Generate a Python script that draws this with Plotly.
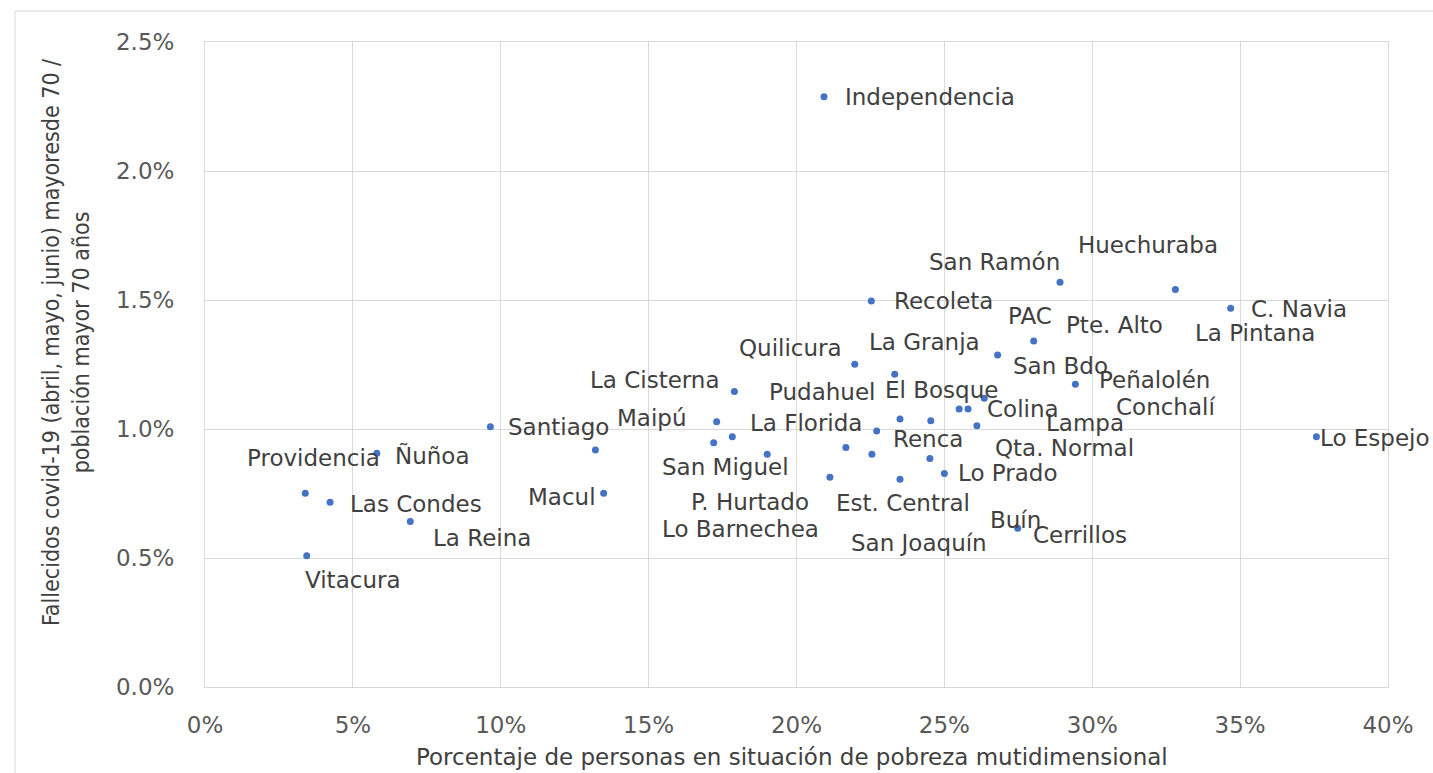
import plotly.graph_objects as go

# ---- data ----
comunas = ["Independencia", "San Ramón", "Huechuraba", "C. Navia", "Recoleta", "Pte. Alto", "PAC",
           "Quilicura", "El Bosque", "La Cisterna", "Peñalolén", "San Bdo", "Lampa", "Colina",
           "Qta. Normal", "Renca", "La Granja", "La Florida", "Maipú", "San Miguel", "P. Hurtado",
           "Lo Barnechea", "Pudahuel", "Est. Central", "Conchalí", "Lo Prado", "San Joaquín",
           "Cerrillos", "Buín", "Lo Espejo", "Santiago", "La Pintana", "Macul", "Ñuñoa",
           "Providencia", "Las Condes", "La Reina", "Vitacura"]

pobreza = [0.2093, 0.2891, 0.3281, 0.3468, 0.2253, 0.2802, 0.2680, 0.2197, 0.2332, 0.1790,
           0.2943, 0.2635, 0.2550, 0.2580, 0.2610, 0.2454, 0.2350, 0.2271, 0.1730, 0.1720,
           0.1783, 0.1901, 0.2167, 0.2255, 0.2451, 0.2500, 0.2113, 0.2350, 0.2748, 0.3758,
           0.0965, 0.1320, 0.1348, 0.0581, 0.0339, 0.0423, 0.0694, 0.0344]

fallecidos = [0.02288, 0.01569, 0.01541, 0.01468, 0.01496, 0.01341, 0.01287, 0.01251, 0.01212,
              0.01145, 0.01173, 0.01119, 0.01078, 0.01078, 0.01013, 0.01032, 0.01039, 0.00992,
              0.01028, 0.00947, 0.00970, 0.00902, 0.00928, 0.00902, 0.00886, 0.00828, 0.00813,
              0.00805, 0.00615, 0.00970, 0.01009, 0.00919, 0.00751, 0.00906, 0.00751, 0.00716,
              0.00641, 0.00509]

x_ticks = [0, 0.05, 0.10, 0.15, 0.20, 0.25, 0.30, 0.35, 0.40]
y_ticks = [0, 0.005, 0.010, 0.015, 0.020, 0.025]

x_title = "Porcentaje de personas en situación de pobreza mutidimensional"
y_title = "Fallecidos covid-19 (abril, mayo, junio) mayoresde 70 /<br>población mayor 70 años"

# ---- label placement (pixel offsets from each point: anchor, dx, dy-down) ----
label_pos = [("left", 19, 0), ("right", 2, -20), ("center", -27, -44), ("left", 18, 1),
             ("left", 21, 0), ("left", 30, -16), ("left", 8, -39), ("right", -11, -16),
             ("left", -12, 16), ("right", -12, -12), ("left", 22, -4), ("left", 27, -32),
             ("left", 85, 14), ("left", 17, 0), ("left", 16, 22), ("center", -3, 18),
             ("center", 24, -77), ("right", -13, -8), ("right", -28, -4), ("center", 12, 24),
             ("center", 18, 65), ("center", -27, 75), ("right", 31, -56), ("center", 31, 49),
             ("left", 184, -51), ("left", 12, 0), ("center", 89, 66), ("left", 131, 56),
             ("left", -30, -8), ("left", 2, 1), ("left", 16, 0), ("center", 660, -117),
             ("right", -6, 4), ("left", 16, 2), ("center", 8, -35), ("left", 18, 2),
             ("left", 21, 16), ("left", -4, 24)]

FONT = "DejaVu Sans"
GRID = "#d9d9d9"

fig = go.Figure()
fig.add_trace(go.Scatter(
    x=pobreza, y=fallecidos, mode="markers", text=comunas,
    marker=dict(color="#4472C4", size=7, line=dict(width=0)),
    hovertemplate="%{text}<br>%{x:.1%} / %{y:.2%}<extra></extra>",
    showlegend=False,
))

annotations = []
for name, xv, yv, (anc, dx, dy) in zip(comunas, pobreza, fallecidos, label_pos):
    annotations.append(dict(
        x=xv, y=yv, xref="x", yref="y", text=name, showarrow=False,
        xanchor=anc, yanchor="middle", xshift=dx, yshift=-dy,
        font=dict(family=FONT, size=23, color="#404040"),
    ))

annotations.append(dict(
    x=0.496, y=-0.1085, xref="paper", yref="paper", text=x_title, showarrow=False,
    xanchor="center", yanchor="middle",
    font=dict(family=FONT, size=23, color="#404040"),
))
annotations.append(dict(
    x=-0.1175, y=0.535, xref="paper", yref="paper", text=y_title, showarrow=False,
    xanchor="center", yanchor="middle", textangle=-90,
    font=dict(family="Liberation Sans Narrow, DejaVu Sans Condensed, Arial Narrow, sans-serif",
              size=23, color="#404040"),
))

fig.update_layout(
    width=1433, height=773,
    margin=dict(l=205, r=45, t=42, b=86),
    paper_bgcolor="white", plot_bgcolor="white",
    annotations=annotations,
    shapes=[dict(type="rect", xref="paper", yref="paper", x0=-0.1606, x1=1.2, y0=-0.4, y1=1.048,
                 line=dict(color=GRID, width=1), fillcolor="rgba(0,0,0,0)", layer="below")],
    xaxis=dict(range=[0, 0.40], tickvals=x_ticks, tickformat=".0%",
               showgrid=True, gridcolor=GRID, gridwidth=1, zeroline=False,
               showline=True, linecolor=GRID, linewidth=1, mirror=True,
               ticks="", ticklabelstandoff=17,
               tickfont=dict(family=FONT, size=23, color="#595959")),
    yaxis=dict(range=[0, 0.025], tickvals=y_ticks, tickformat=".1%",
               showgrid=True, gridcolor=GRID, gridwidth=1, zeroline=False,
               showline=True, linecolor=GRID, linewidth=1, mirror=True,
               ticks="", ticklabelstandoff=25,
               tickfont=dict(family=FONT, size=23, color="#595959")),
)

fig.write_html("out.html", include_plotlyjs=True, config={"displayModeBar": False},
               post_script="document.body.style.margin='0';")
